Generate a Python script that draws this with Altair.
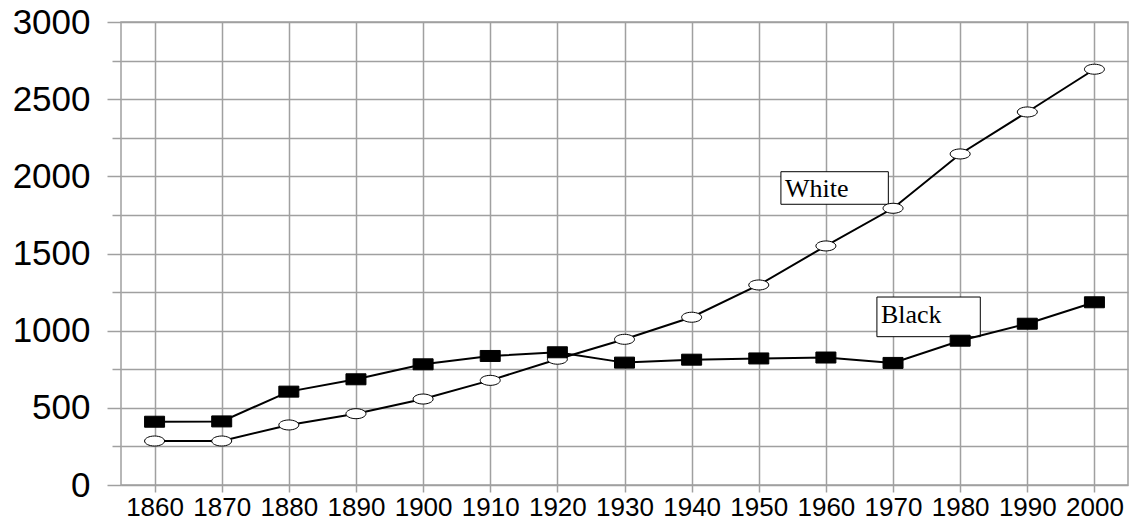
import altair as alt
import pandas as pd

years = [1860, 1870, 1880, 1890, 1900, 1910, 1920, 1930, 1940, 1950, 1960, 1970, 1980, 1990, 2000]
white = [285, 285, 389, 462, 557, 678, 815, 944, 1087, 1296, 1549, 1793, 2145, 2417, 2694]
black = [410, 412, 605, 685, 782, 836, 860, 793, 812, 820, 826, 791, 935, 1045, 1184]

label_text = ["White", "Black"]
label_x = [1953.3, 1967.6]
label_x2 = [1969.3, 1983.0]
label_y = [2030, 1218]
label_y2 = [1819, 961]
label_ty = [1868, 1048]

y_ticks = list(range(0, 3001, 250))

df = pd.DataFrame(
    {"year": years * 2, "value": white + black, "series": ["White"] * len(years) + ["Black"] * len(years)}
)
lab = pd.DataFrame({"text": label_text, "x": label_x, "x2": label_x2, "y": label_y, "y2": label_y2, "ty": label_ty})

GRID = "#a0a0a0"
ellipse = "M-1,0 A1,0.5 0 1,0 1,0 A1,0.5 0 1,0 -1,0 Z"
rectangle = "M-1,-0.55 L1,-0.55 L1,0.55 L-1,0.55 Z"

xscale = alt.Scale(domain=[1855, 2005], nice=False, zero=False)
yscale = alt.Scale(domain=[0, 3000], nice=False)

xaxis = alt.Axis(
    values=years, format="d", title=None, grid=True, gridColor=GRID, gridWidth=1.5,
    domain=False, tickColor=GRID, tickSize=7, tickWidth=1.5,
    labelFont="Liberation Sans", labelFontSize=26, labelColor="black", labelPadding=2,
    labelFlush=False, labelOverlap=False,
)
yaxis = alt.Axis(
    values=y_ticks, title=None, grid=True, gridColor=GRID, gridWidth=1.5,
    domain=False, tickColor=GRID, tickWidth=1.5,
    tickSize={"condition": {"test": "datum.value % 500 === 0", "value": 14}, "value": 9},
    labelExpr="datum.value % 500 === 0 ? datum.label : ''",
    labelFont="Liberation Sans", labelFontSize=35, labelColor="black", labelPadding=17,
    labelFlush=False, labelOverlap=False, format="d",
)

base_x = alt.X("year:Q", scale=xscale, axis=xaxis)
base_y = alt.Y("value:Q", scale=yscale, axis=yaxis)

boxes = alt.Chart(lab).mark_rect(fill="white", stroke="black", strokeWidth=1).encode(
    x=alt.X("x:Q", scale=xscale, axis=xaxis), x2="x2:Q",
    y=alt.Y("y:Q", scale=yscale, axis=yaxis), y2="y2:Q",
)
texts = alt.Chart(lab).mark_text(
    font="Liberation Serif", fontSize=26, align="left", baseline="alphabetic", dx=4, color="black"
).encode(
    x=alt.X("x:Q", scale=xscale, axis=xaxis),
    y=alt.Y("ty:Q", scale=yscale, axis=yaxis),
    text="text:N",
)

def series_layer(name, shape, fill):
    d = df[df.series == name]
    line = alt.Chart(d).mark_line(color="black", strokeWidth=2).encode(x=base_x, y=base_y)
    pts = alt.Chart(d).mark_point(
        shape=shape, size=400, filled=True, fill=fill, stroke="black", strokeWidth=1, opacity=1
    ).encode(x=base_x, y=base_y)
    return line + pts

chart = alt.layer(
    boxes, texts, series_layer("White", ellipse, "white"), series_layer("Black", rectangle, "black")
).properties(
    width=1007, height=463,
    autosize=alt.AutoSizeParams(type="none"),
    padding={"left": 113, "top": 14, "right": 2, "bottom": 40},
).configure_view(stroke=GRID, strokeWidth=1.5)

chart.save("out.html", embed_options={"renderer": "svg", "actions": False})
